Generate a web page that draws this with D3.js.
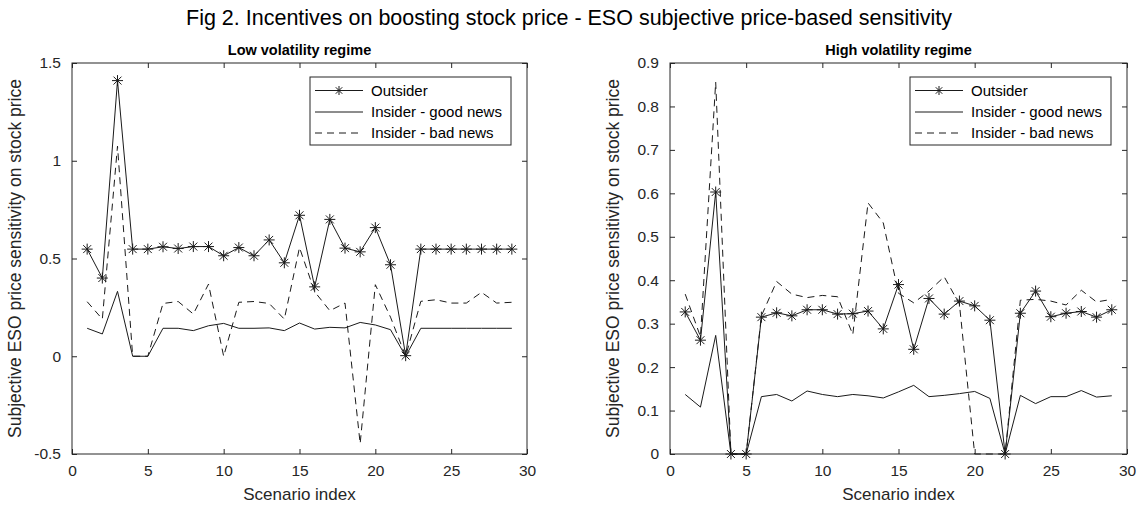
<!DOCTYPE html>
<html>
<head>
<meta charset="utf-8">
<script src="https://cdn.jsdelivr.net/npm/d3@7/dist/d3.min.js"></script>
<style>
  html, body { margin: 0; padding: 0; background: #fff; }
  svg { display: block; font-family: "Liberation Sans", Arial, Helvetica, sans-serif; }
</style>
</head>
<body>
<svg id="chart" width="1138" height="510"></svg>
<script>
// ---------------- data ----------------
const scenarios = d3.range(1, 30);
const xTicks = [0, 5, 10, 15, 20, 25, 30];

const lowOutsider = [0.548, 0.400, 1.410, 0.548, 0.548, 0.560, 0.551, 0.561, 0.561, 0.514,
  0.556, 0.514, 0.595, 0.478, 0.721, 0.355, 0.700, 0.553, 0.534, 0.658,
  0.468, 0.003, 0.548, 0.548, 0.548, 0.548, 0.548, 0.548, 0.548];
const lowGood = [0.143, 0.114, 0.332, 0.000, 0.000, 0.143, 0.143, 0.131, 0.156, 0.168,
  0.143, 0.143, 0.145, 0.131, 0.170, 0.139, 0.148, 0.145, 0.173, 0.160,
  0.136, 0.000, 0.143, 0.143, 0.143, 0.143, 0.143, 0.143, 0.143];
const lowBad = [0.279, 0.190, 1.075, 0.000, 0.000, 0.270, 0.280, 0.216, 0.369, 0.000,
  0.276, 0.280, 0.270, 0.190, 0.556, 0.330, 0.233, 0.272, -0.447, 0.366,
  0.200, 0.000, 0.281, 0.289, 0.272, 0.272, 0.327, 0.272, 0.276];
const lowYTicks = [-0.5, 0, 0.5, 1, 1.5];
const lowYTickLabels = ["-0.5", "0", "0.5", "1", "1.5"];

const highOutsider = [0.327, 0.262, 0.603, 0.000, 0.000, 0.315, 0.325, 0.318, 0.332, 0.332,
  0.322, 0.323, 0.329, 0.288, 0.390, 0.241, 0.358, 0.322, 0.352, 0.341,
  0.308, 0.000, 0.324, 0.375, 0.316, 0.324, 0.328, 0.315, 0.332];
const highGood = [0.137, 0.108, 0.273, 0.000, 0.000, 0.132, 0.137, 0.122, 0.145, 0.137,
  0.132, 0.137, 0.134, 0.129, 0.143, 0.158, 0.132, 0.135, 0.139, 0.144,
  0.128, 0.000, 0.135, 0.116, 0.132, 0.132, 0.146, 0.131, 0.134];
const highBad = [0.368, 0.270, 0.856, 0.000, 0.000, 0.318, 0.397, 0.368, 0.360, 0.365,
  0.362, 0.275, 0.578, 0.532, 0.370, 0.348, 0.375, 0.408, 0.345, 0.000,
  0.000, 0.000, 0.354, 0.356, 0.352, 0.343, 0.377, 0.350, 0.356];
const highYTicks = [0, 0.1, 0.2, 0.3, 0.4, 0.5, 0.6, 0.7, 0.8, 0.9];
const highYTickLabels = ["0", "0.1", "0.2", "0.3", "0.4", "0.5", "0.6", "0.7", "0.8", "0.9"];

const seriesNames = ["Outsider", "Insider - good news", "Insider - bad news"];
const figTitle = "Fig 2. Incentives on boosting stock price - ESO subjective price-based sensitivity";
const panelTitles = ["Low volatility regime", "High volatility regime"];
const xLabel = "Scenario index";
const yLabel = "Subjective ESO price sensitivity on stock price";

// ---------------- drawing ----------------
const svg = d3.select("#chart");
const axisColor = "#262626";
const lineColor = "#1a1a1a";
const dashPattern = "7,5";

svg.append("text")
  .attr("x", 569).attr("y", 25)
  .attr("text-anchor", "middle")
  .attr("font-size", 21.5)
  .attr("fill", "#000")
  .text(figTitle);

function asterisk(g, x, y, r) {
  const d = r * 0.72;
  const p = `M${x - r},${y}L${x + r},${y}M${x},${y - r}L${x},${y + r}` +
            `M${x - d},${y - d}L${x + d},${y + d}M${x - d},${y + d}L${x + d},${y - d}`;
  g.append("path").attr("d", p).attr("stroke", lineColor).attr("stroke-width", 1).attr("fill", "none");
}

function panel(opts) {
  const { left, right, top, bottom, yDomain, yTicks, yTickLabels, outsider, good, bad, title } = opts;
  const x = d3.scaleLinear().domain([0, 30]).range([left, right]);
  const y = d3.scaleLinear().domain(yDomain).range([bottom, top]);
  const g = svg.append("g");

  const cid = "clip" + left;
  svg.append("clipPath").attr("id", cid)
    .append("rect").attr("x", left).attr("y", top - 8).attr("width", right - left).attr("height", bottom - top + 16);

  const tickLen = 5;
  const xb = d3.axisBottom(x).tickValues(xTicks).tickSize(-tickLen).tickPadding(tickLen + 6).tickFormat(d3.format("d"));
  const xt = d3.axisTop(x).tickValues(xTicks).tickSize(-tickLen).tickFormat("");
  const yl = d3.axisLeft(y).tickValues(yTicks).tickSize(-tickLen).tickPadding(tickLen + 6).tickFormat((d, i) => yTickLabels[i]);
  const yr = d3.axisRight(y).tickValues(yTicks).tickSize(-tickLen).tickFormat("");

  function styleAxis(sel) {
    sel.select(".domain").attr("stroke", axisColor).attr("stroke-width", 1);
    sel.selectAll(".tick line").attr("stroke", axisColor).attr("stroke-width", 1);
    sel.selectAll(".tick text").attr("fill", axisColor).attr("font-size", 15.5)
      .attr("font-family", "'Liberation Sans', Arial, sans-serif");
  }
  g.append("g").attr("transform", `translate(0,${bottom})`).call(xb).call(styleAxis);
  g.append("g").attr("transform", `translate(0,${top})`).call(xt).call(styleAxis);
  g.append("g").attr("transform", `translate(${left},0)`).call(yl).call(styleAxis);
  g.append("g").attr("transform", `translate(${right},0)`).call(yr).call(styleAxis);
  g.selectAll(".domain").attr("d", null);
  g.append("rect").attr("x", left).attr("y", top).attr("width", right - left).attr("height", bottom - top)
    .attr("fill", "none").attr("stroke", axisColor).attr("stroke-width", 1);

  const line = d3.line().x((d, i) => x(scenarios[i])).y(d => y(d));
  const plot = g.append("g").attr("clip-path", `url(#${cid})`);
  plot.append("path").datum(bad).attr("d", line).attr("fill", "none")
    .attr("stroke", lineColor).attr("stroke-width", 1).attr("stroke-dasharray", dashPattern);
  plot.append("path").datum(good).attr("d", line).attr("fill", "none")
    .attr("stroke", lineColor).attr("stroke-width", 1);
  plot.append("path").datum(outsider).attr("d", line).attr("fill", "none")
    .attr("stroke", lineColor).attr("stroke-width", 1);
  const mk = g.append("g");
  outsider.forEach((v, i) => asterisk(mk, x(scenarios[i]), y(v), 5.5));

  g.append("text").attr("x", (left + right) / 2).attr("y", top - 8)
    .attr("text-anchor", "middle").attr("font-weight", "bold").attr("font-size", 14.5).attr("fill", "#000")
    .text(title);
  g.append("text").attr("x", (left + right) / 2).attr("y", bottom + 46)
    .attr("text-anchor", "middle").attr("font-size", 17).attr("fill", axisColor)
    .text(xLabel);
  g.append("text")
    .attr("transform", `translate(${left - 51},${(top + bottom) / 2}) rotate(-90)`)
    .attr("text-anchor", "middle").attr("font-size", 17.5).attr("fill", axisColor)
    .text(yLabel);

  const lx = right - 217, ly = top + 14, lw = 201, lh = 68;
  const lg = g.append("g");
  lg.append("rect").attr("x", lx).attr("y", ly).attr("width", lw).attr("height", lh)
    .attr("fill", "#fff").attr("stroke", axisColor).attr("stroke-width", 1);
  const rows = [ly + 13.5, ly + 35, ly + 56];
  seriesNames.forEach((name, i) => {
    const ry = rows[i];
    const ln = lg.append("line").attr("x1", lx + 5).attr("x2", lx + 53).attr("y1", ry).attr("y2", ry)
      .attr("stroke", lineColor).attr("stroke-width", 1);
    if (i === 2) ln.attr("stroke-dasharray", dashPattern);
    if (i === 0) asterisk(lg, lx + 29, ry, 4.5);
    lg.append("text").attr("x", lx + 61).attr("y", ry + 5)
      .attr("font-size", 15).attr("fill", "#000").text(name);
  });
}

panel({ left: 72, right: 527, top: 63, bottom: 454, yDomain: [-0.5, 1.5], yTicks: lowYTicks,
  yTickLabels: lowYTickLabels, outsider: lowOutsider, good: lowGood, bad: lowBad, title: panelTitles[0] });
panel({ left: 670, right: 1127, top: 63, bottom: 454, yDomain: [0, 0.9], yTicks: highYTicks,
  yTickLabels: highYTickLabels, outsider: highOutsider, good: highGood, bad: highBad, title: panelTitles[1] });
</script>
</body>
</html>
